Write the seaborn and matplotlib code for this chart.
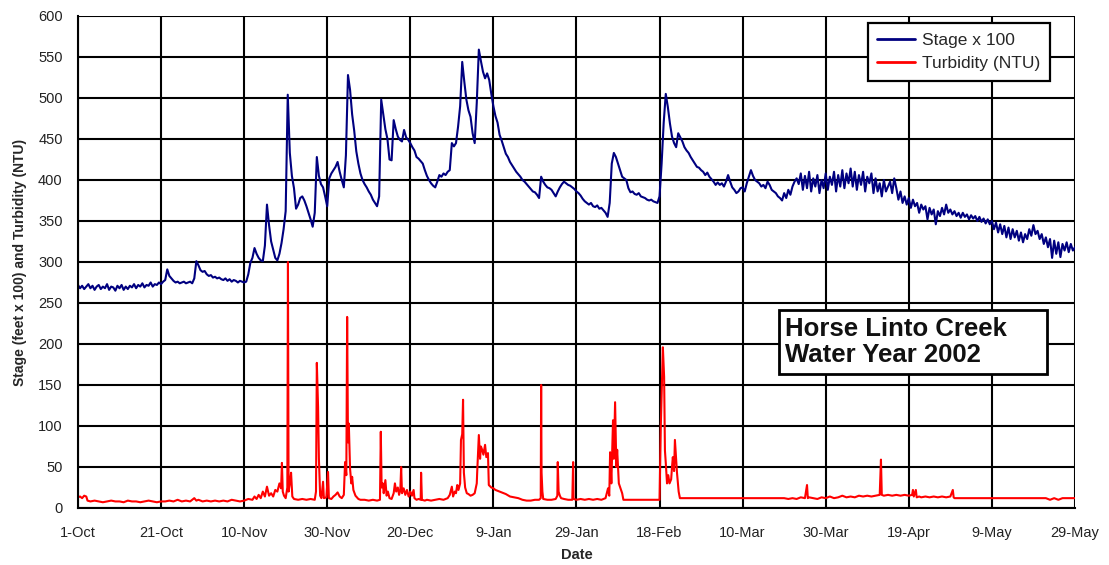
import numpy as np
import pandas as pd
import matplotlib
matplotlib.use("Agg")
import matplotlib.pyplot as plt
from matplotlib.patches import Rectangle
import seaborn as sns

# ---------------- data ----------------
# Stage x 100, sampled every 0.5 day from 1-Oct-2001 (day 0) to 29-May-2002 (day 240)
stage_step = 0.5
stage_vals = [
    272,268,271,267,270,273,268,271,266,270, 272,267,270,268,273,266,270,269,265,271,
    268,272,266,270,267,271,269,273,268,272, 270,274,269,272,271,275,270,273,272,275,
    273,276,278,291,283,280,277,275,276,274, 275,276,274,275,276,274,280,301,296,290,
    288,289,285,283,284,281,282,280,281,279, 278,280,277,279,276,278,277,275,277,276,
    275,276,285,299,305,317,310,305,302,301, 320,370,345,325,315,305,302,310,323,340,
    362,504,433,405,390,365,370,378,380,375, 368,360,352,343,360,428,405,395,391,380,
    368,402,408,412,416,422,410,400,391,430, 528,510,480,460,435,420,408,400,395,391,
    386,382,376,372,368,380,498,480,462,450, 425,424,473,462,453,449,447,461,452,449,
    445,440,436,428,426,423,420,412,405,400, 396,393,391,398,406,404,408,406,410,412,
    445,441,445,465,490,544,520,498,485,477, 457,445,494,559,545,532,524,530,522,505,
    490,478,470,455,448,440,432,428,422,418, 414,410,407,404,400,398,395,392,389,386,
    385,382,378,404,398,394,391,390,388,384, 380,386,391,395,398,396,394,393,391,389,
    386,384,381,377,374,372,370,372,368,367, 369,365,366,363,360,355,372,420,433,428,
    420,412,404,402,400,390,385,386,383,382, 384,380,379,378,376,375,376,374,373,372,
    380,420,470,505,489,469,453,445,440,457, 452,447,440,436,433,428,424,420,416,415,
    412,410,406,409,404,401,398,394,397,394, 396,392,398,406,398,391,388,384,386,390,
    391,386,396,404,412,405,400,398,396,392, 394,390,398,394,388,386,384,380,378,375,
    384,378,388,382,392,398,402,395,408,388, 405,390,410,386,402,392,406,384,400,390,
    408,388,404,394,410,386,406,392,412,390, 408,396,414,392,410,388,406,394,410,386,
    404,396,408,384,402,386,396,380,400,386, 392,398,384,402,390,376,386,372,380,370,
    378,366,376,368,372,360,370,364,368,352, 366,358,364,346,362,356,366,358,370,360,
    364,358,362,356,360,354,360,355,358,352, 357,353,356,350,355,349,353,347,352,346,
    350,340,348,336,346,334,344,330,342,328, 340,330,338,326,336,324,334,328,340,332,
    345,334,338,328,334,322,330,318,328,305, 326,310,324,306,322,314,324,312,322,314,
    318,
]

# Turbidity (NTU): day offsets from 1-Oct and values
turb_day = [
    0,0.5,1,1.5,2,2.3,3,4,5,6,7,8,9,10,11,12,13,14,15,16,17,18,19,20,21,22,23,24,25,26,27,28,28.5,29,30,
    31,32,33,34,35,36,37,38,39,40,
    41,42,42.5,43,43.5,44,44.5,45,45.5,46,46.5,47,47.5,48,48.5,48.9,49.1,49.3,49.6,50,50.4,50.55,50.7,51,51.3,51.6,
    52,53,54,55,56,57,57.3,57.5,57.8,58,58.3,58.6,59,59.2,59.8,60.2,60.4,61,61.5,62,62.5,63,63.5,64,64.3,64.6,
    64.8,65,65.2,65.5,65.8,66,66.3,66.8,67.5,68,69,70,71,72,72.7,72.9,73.1,73.4,73.6,74,74.3,74.6,75,75.5,76,
    76.3,76.6,77,77.3,77.6,77.8,78,78.4,78.8,79.2,79.6,80,80.4,80.8,81,81.5,82,82.5,82.6,82.8,83.5,84,85,86,87,
    88,89,89.5,90,90.3,90.7,91,91.3,91.6,92,92.2,92.5,92.7,92.9,93.2,93.6,94,94.5,95,95.5,96,96.1,96.5,96.8,97,
    97.3,97.6,98,98.3,98.7,98.9,99.5,100,100.5,101,101.5,102,102.5,103,104,105,106,107,108,109,110,111,111.4,
    111.5,111.6,111.8,112,113,114,115,115.4,115.5,115.7,116,116.3,117,118,119,119.2,119.3,120,121,122,123,124,
    125,126,127,127.6,127.9,128.1,128.4,128.8,129,129.3,129.6,129.8,130.2,131,131.3,132,135,138,140,140.3,140.8,
    141.1,141.3,141.5,141.8,142.1,142.4,142.8,143,143.2,143.5,143.7,144,144.2,144.6,144.9,150,155,160,165,170,
    171,172,173,174,175,175.5,175.7,176,177,178,179,180,181,182,183,184,185,186,187,188,189,190,191,192,193,
    193.3,193.5,194,195,196,197,198,199,200,200.8,201,201.2,201.7,201.9,202.5,203,204,205,206,207,208,209,210,
    210.6,210.8,211,220,230,233,234,235,236,237,240,
]
turb_val = [
    13,14,12,15,14,9,8,9,8,7,8,9,8,8,7,9,8,8,7,8,9,8,7,8,8,9,8,10,8,9,8,12,9,10,8,
    9,8,9,8,9,8,10,9,8,9,
    11,10,14,11,16,12,20,14,26,15,18,14,22,20,30,24,55,20,15,12,25,300,20,30,43,14,
    11,10,11,10,11,10,20,177,123,60,15,12,32,12,13,44,12,11,14,16,19,14,12,16,56,40,
    233,80,103,48,30,38,22,15,11,10,10,9,10,9,10,93,25,30,18,34,15,20,12,11,18,
    30,20,25,16,22,50,18,24,16,22,14,20,15,22,12,10,11,10,43,10,9,10,9,10,11,
    10,12,16,26,14,20,18,28,22,30,83,90,132,43,25,18,17,15,16,18,30,43,89,60,75,
    71,65,77,62,67,28,25,24,22,21,20,19,18,17,14,13,12,10,9,9,10,10,12,
    150,43,20,11,10,10,11,15,56,20,15,12,11,10,10,56,11,10,11,10,11,10,
    11,10,12,24,15,68,30,107,60,129,50,71,30,18,10,10,10,10,10,99,196,
    160,70,55,30,40,30,35,50,62,45,83,60,43,20,12,12,12,12,12,12,
    11,12,11,13,12,28,12,13,12,11,13,12,14,12,13,15,13,14,13,15,14,15,14,15,16,
    59,16,15,16,15,16,15,16,15,16,22,14,22,13,14,13,14,13,14,13,14,13,14,
    22,13,12,12,12,12,10,12,10,12,12,
]

tick_days = [0, 20, 40, 60, 80, 100, 120, 140, 160, 180, 200, 220, 240]
tick_labels = ["1-Oct", "21-Oct", "10-Nov", "30-Nov", "20-Dec", "9-Jan", "29-Jan",
               "18-Feb", "10-Mar", "30-Mar", "19-Apr", "9-May", "29-May"]
y_ticks = list(range(0, 601, 50))

stage_day = np.arange(len(stage_vals)) * stage_step
stage_df = pd.DataFrame({"day": stage_day, "value": stage_vals})
turb_df = pd.DataFrame({"day": turb_day, "value": turb_val})

# ---------------- plot ----------------
sns.set_theme(style="white")
plt.rcParams["font.family"] = ["Liberation Sans", "DejaVu Sans"]

fig = plt.figure(figsize=(11.09, 5.65), dpi=100)
ax = fig.add_axes([0.0703, 0.1009, 0.8990, 0.8708])

sns.lineplot(data=stage_df, x="day", y="value", ax=ax, color="#000080",
             linewidth=1.5, estimator=None, label="Stage x 100")
sns.lineplot(data=turb_df, x="day", y="value", ax=ax, color="#FF0000",
             linewidth=1.5, estimator=None, label="Turbidity (NTU)")

ax.set_xlim(0, 240)
ax.set_ylim(0, 600)
ax.set_xticks(tick_days)
ax.set_xticklabels(tick_labels)
ax.set_yticks(y_ticks)
ax.grid(True, color="black", linewidth=1.5)
ax.set_axisbelow(True)
for side in ["top", "right"]:
    ax.spines[side].set_visible(False)
for side in ["left", "bottom"]:
    ax.spines[side].set_color("black")
    ax.spines[side].set_linewidth(1.5)
ax.tick_params(axis="both", which="both", direction="out", length=5, width=1.5,
               color="black", labelsize=10.5, labelcolor="#222222", pad=6)
ax.tick_params(axis="x", pad=8)

ax.set_xlabel("Date", fontsize=10.5, fontweight="bold", labelpad=6)
ax.set_ylabel("Stage (feet x 100) and Turbidity (NTU)", fontsize=10,
              fontweight="bold", labelpad=8)

leg = ax.legend(loc="upper right", bbox_to_anchor=(0.975, 0.985), fontsize=12.5,
                frameon=True, fancybox=False, handlelength=2.2, handletextpad=0.4,
                borderpad=0.55, labelspacing=0.45, borderaxespad=0)
leg.get_frame().set_edgecolor("black")
leg.get_frame().set_linewidth(1.6)
leg.get_frame().set_facecolor("white")
leg.get_frame().set_alpha(1)
leg.set_zorder(6)
for line in leg.get_lines():
    line.set_linewidth(2)

# title box (layout only)
box = Rectangle((0.703, 0.272), 0.269, 0.130, transform=ax.transAxes,
                facecolor="white", edgecolor="black", linewidth=2, zorder=5)
ax.add_patch(box)
ax.text(0.709, 0.337, "Horse Linto Creek\nWater Year 2002", transform=ax.transAxes,
        fontsize=18.5, fontweight="bold", ha="left", va="center", linespacing=1.1,
        color="#111111", zorder=6)

fig.savefig("out.png", dpi=100)
